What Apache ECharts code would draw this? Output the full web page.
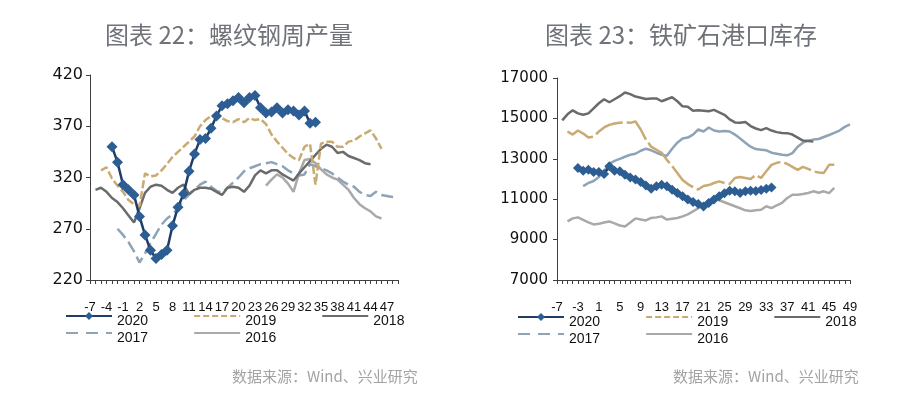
<!DOCTYPE html>
<html>
<head>
<meta charset="utf-8">
<script src="https://cdn.jsdelivr.net/npm/echarts@6/dist/echarts.min.js"></script>
<style>
body{margin:0;background:#fff;}
#echart_rebar,#echart_ore{position:absolute;top:0;width:450px;height:398px;}
#echart_rebar{left:0;}
#echart_ore{left:450px;}
</style>
</head>
<body>
<div id="echart_rebar"></div>
<div id="echart_ore"></div>
<script>
// 周数（横轴）
var weeks = ['-7','-6','-5','-4','-3','-2','-1','0','1','2','3','4','5','6','7','8','9','10',
    '11','12','13','14','15','16','17','18','19','20','21','22','23','24','25','26','27','28',
    '29','30','31','32','33','34','35','36','37','38','39','40','41','42','43','44','45','46',
    '47','48','49'];

// 图表22：螺纹钢周产量（万吨），每条线从 start 周开始
var rebar2020Start = -3;
var rebar2020 = [350,335,313,308,303,282,264,249,241,245,249,273,291,304,326,343,357,358,368,380,
    390,392,395,398,393,398,400,388,383,384,388,383,386,385,381,385,373,374];
var rebar2019Start = -5;
var rebar2019 = [327,330,319,312,306,298,294,292,324,321,322,327,333,340,345,350,355,360,370,376,
    380,381,378,375,374,377,374,378,376,377,372,362,355,349,343,339,337,350,353,313,
    353,355,355,350,350,355,356,360,363,366,358,348];
var rebar2018Start = -6;
var rebar2018 = [308,310,306,300,296,290,283,276,290,305,311,313,312,308,305,310,313,304,308,310,
    310,309,306,303,310,311,310,306,312,322,327,324,327,327,323,320,317,324,330,336,
    342,348,352,350,344,345,341,339,337,334,333];
var rebar2017Start = -2;
var rebar2017 = [270,264,257,248,237,246,256,265,274,280,284,290,298,303,308,313,316,311,307,305,
    310,315,320,326,329,331,333,334,335,333,331,327,324,322,323,333,331,329,327,324,
    320,316,313,311,306,303,302,306,303,302,301,300];
var rebar2016Start = 25;
var rebar2016 = [312,318,323,320,314,306,324,337,338,334,328,323,320,318,313,308,300,294,290,287,282,280];

// 图表23：铁矿石港口库存（万吨）
var ore2020Start = -3;
var ore2020 = [12550,12410,12460,12350,12350,12250,12630,12410,12380,12210,12080,11970,11850,11680,
    11520,11640,11720,11640,11470,11310,11140,10980,10860,10760,10640,10810,10980,11140,
    11300,11420,11390,11310,11390,11420,11400,11450,11520,11580];
var ore2019Start = -5;
var ore2019 = [14350,14200,14400,14250,14050,14100,14350,14550,14680,14750,14780,14800,14780,14850,
    14450,13950,13600,13450,13300,12950,12650,12300,11950,11750,11600,11480,11650,11700,
    11800,11880,11800,11750,12050,12100,12050,12000,12200,12050,12380,12700,12800,12850,
    12750,12600,12450,12600,12500,12380,12320,12300,12700,12700];
var ore2018Start = -6;
var ore2018 = [14900,15200,15400,15250,15180,15250,15500,15750,15950,15800,15950,16100,16280,16200,
    16080,16020,15960,15980,15990,15850,15950,16050,15850,15600,15580,15380,15400,15380,
    15350,15420,15300,15180,14950,14800,14780,14820,14620,14500,14420,14520,14400,14320,
    14280,14270,14200,14050,13900,13880,13850];
var ore2017Start = -2;
var ore2017 = [11650,11800,11900,12100,12400,12750,12900,13000,13100,13200,13250,13400,13500,13420,
    13300,13200,13150,13500,13800,14000,14050,14200,14450,14350,14550,14400,14350,14380,
    14350,14200,14000,13800,13600,13480,13450,13420,13300,13250,13200,13170,13280,13600,
    13800,13900,13950,13980,14080,14180,14280,14400,14580,14700];
var ore2016Start = -5;
var ore2016 = [9900,10050,10100,9980,9850,9750,9780,9850,9900,9800,9700,9650,9850,10050,10000,9950,
    10070,10100,10150,9990,10030,10070,10150,10250,10400,10550,10750,10950,11000,10950,
    10850,10750,10650,10550,10450,10420,10450,10480,10650,10560,10700,10820,11060,11220,
    11220,11260,11310,11390,11320,11390,11300,11560];

// 颜色
var c2020 = '#1f3d66', c2020Mark = '#2c5d93', c2019 = '#c9aa72', c2018 = '#6b6b6b',
    c2017 = '#8ea4b6', c2016 = '#a9a9a9';

// 把数据按周对齐到横轴，空缺用 null
function toAxis(start, vals)
{
    var out = [];
    for (var i = 0; i < weeks.length; i++) out.push(null);
    var offset = start - Number(weeks[0]);
    for (var j = 0; j < vals.length; j++) out[offset + j] = vals[j];
    return out;
}

function line(name, data, color, dash)
{
    return {
        name : name,
        type : 'line',
        data : data,
        showSymbol : false,
        symbol : 'none',
        lineStyle : { color : color, width : 2.5, type : dash || 'solid' },
        itemStyle : { color : color },
        z : 2
    };
}

function line2020(data, size)
{
    return {
        name : '2020',
        type : 'line',
        data : data,
        symbol : 'diamond',
        symbolSize : size,
        showAllSymbol : true,
        lineStyle : { color : c2020, width : 2.5 },
        itemStyle : { color : c2020Mark },
        z : 5
    };
}

// 图例项：除2020外不画标记点
function legendItem(name, dash)
{
    var item = { name : name, itemStyle : { color : 'rgba(0,0,0,0)', opacity : 0 } };
    if (dash) item.lineStyle = { type : dash };
    return item;
}

// 图例文字比图标略低一些
function legends(left, top, dash2019, dash2017)
{
    var base = {
        left : left,
        itemWidth : 46,
        itemHeight : 10,
        itemGap : 45,
        padding : 0,
        selectedMode : false,
        formatter : '{t|{name}}',
        textStyle : {
            fontFamily : 'Liberation Sans', fontSize : 14, color : '#111',
            rich : { t : { fontFamily : 'Liberation Sans', fontSize : 14, color : '#111', lineHeight : 24, verticalAlign : 'bottom' } }
        }
    };
    var row1 = echarts.util.merge({ top : top, data : ['2020', legendItem('2019', dash2019), legendItem('2018')] }, base);
    var row2 = echarts.util.merge({ top : top + 17, data : [legendItem('2017', dash2017), legendItem('2016')] }, base);
    return [row1, row2];
}

function titles(text, titleLeft, srcLeft)
{
    return [
        {
            text : text,
            left : titleLeft,
            top : 23,
            padding : 0,
            textStyle : { fontFamily : 'Noto Sans CJK SC', fontSize : 24, fontWeight : 'normal', color : '#6f7379' }
        },
        {
            text : '数据来源：Wind、兴业研究',
            left : srcLeft,
            top : 369,
            padding : 0,
            textStyle : { fontFamily : 'Noto Sans CJK SC', fontSize : 15, fontWeight : 'normal', color : '#a3a3a3' }
        }
    ];
}

function xAxisOpt(labelInterval)
{
    return {
        type : 'category',
        data : weeks,
        boundaryGap : false,
        axisLine : { lineStyle : { color : '#404040', width : 1 } },
        axisTick : { interval : 0, length : 4, lineStyle : { color : '#404040' } },
        axisLabel : {
            interval : labelInterval, hideOverlap : false, margin : 21,
            fontFamily : 'Liberation Sans', fontSize : 13, color : '#111'
        },
        splitLine : { show : false }
    };
}

function yAxisOpt(min, max, step, fontSize, margin)
{
    return {
        type : 'value',
        min : min,
        max : max,
        interval : step,
        axisLine : { show : true, lineStyle : { color : '#404040', width : 1 } },
        axisTick : { show : true, length : 4, lineStyle : { color : '#404040' } },
        axisLabel : {
            margin : margin, fontFamily : 'DejaVu Sans', fontSize : fontSize, color : '#111',
            formatter : function (v) { return String(v); }
        },
        splitLine : { show : false }
    };
}

// 左图：螺纹钢周产量
var rebarChart = echarts.init(document.getElementById('echart_rebar'));
rebarChart.setOption({
    animation : false,
    title : titles('图表 22：螺纹钢周产量', 105, 232),
    legend : legends(65, 312, [6, 3], [12, 8]),
    grid : { left : 90, top : 75, width : 308, height : 205 },
    xAxis : xAxisOpt(2),
    yAxis : yAxisOpt(220, 420, 50, 16, 7),
    series : [
        line('2016', toAxis(rebar2016Start, rebar2016), c2016),
        line('2017', toAxis(rebar2017Start, rebar2017), c2017, [12, 5]),
        line('2018', toAxis(rebar2018Start, rebar2018), c2018),
        line('2019', toAxis(rebar2019Start, rebar2019), c2019, [8, 3]),
        line2020(toAxis(rebar2020Start, rebar2020), 11)
    ]
});

// 右图：铁矿石港口库存
var oreChart = echarts.init(document.getElementById('echart_ore'));
oreChart.setOption({
    animation : false,
    title : titles('图表 23：铁矿石港口库存', 95, 223),
    legend : legends(67, 313, [6, 3], [12, 8]),
    grid : { left : 107, top : 78, width : 293, height : 202 },
    xAxis : xAxisOpt(3),
    yAxis : yAxisOpt(7000, 17000, 2000, 15, 9),
    series : [
        line('2016', toAxis(ore2016Start, ore2016), c2016),
        line('2017', toAxis(ore2017Start, ore2017), c2017),
        line('2018', toAxis(ore2018Start, ore2018), c2018),
        line('2019', toAxis(ore2019Start, ore2019), c2019, [30, 4]),
        line2020(toAxis(ore2020Start, ore2020), 10)
    ]
});
</script>
</body>
</html>
